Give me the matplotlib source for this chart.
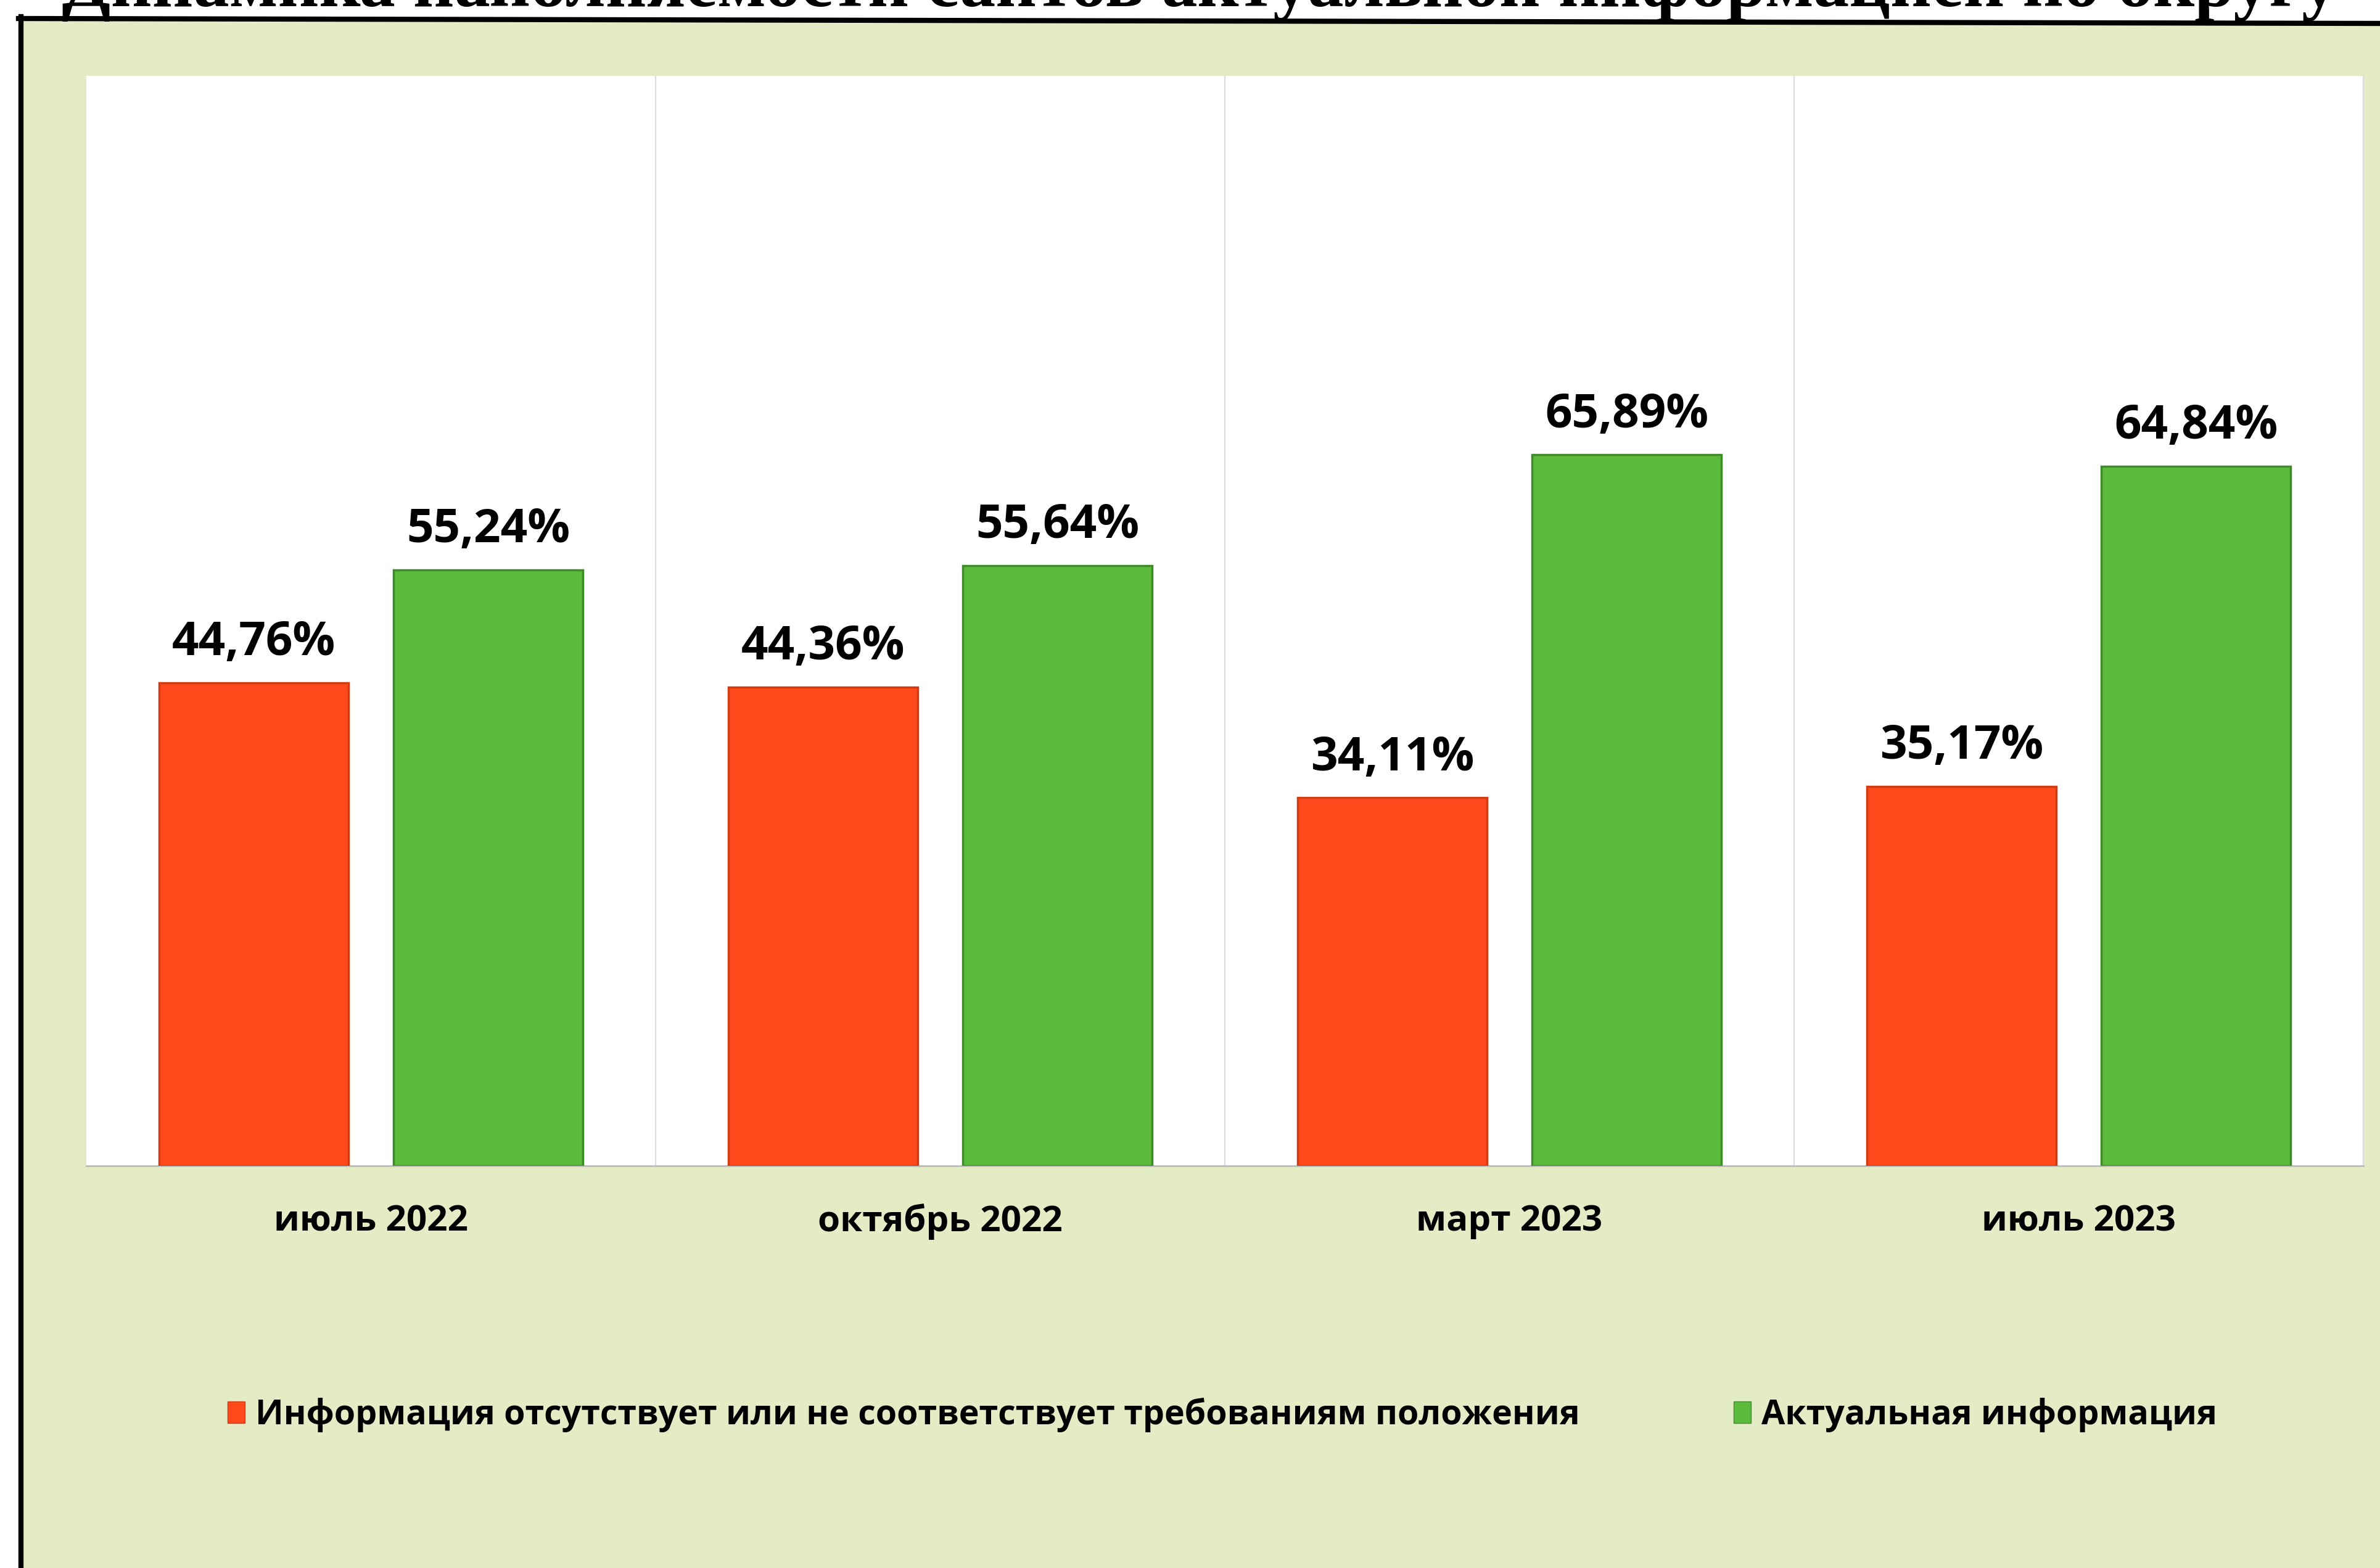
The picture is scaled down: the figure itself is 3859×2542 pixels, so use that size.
import matplotlib
matplotlib.use('Agg')
import matplotlib.pyplot as plt
from matplotlib.patches import Polygon, Patch
from matplotlib.lines import Line2D
import numpy as np

plt.rcParams['font.family'] = ['Open Sans', 'DejaVu Sans']

title = "Динамика наполняемости сайтов актуальной информацией по округу"
categories = ["июль 2022", "октябрь 2022", "март 2023", "июль 2023"]
series_names = ["Информация отсутствует или не соответствует требованиям положения",
                "Актуальная информация"]
missing = [44.76, 44.36, 34.11, 35.17]
actual = [55.24, 55.64, 65.89, 64.84]

RED = '#ff4a1c'
RED_EDGE = '#d23a12'
GREEN = '#5cbb3d'
GREEN_EDGE = '#3d8c28'
BG = '#e4ecc5'

W, H = 3859, 2542
DPI = 100
fig = plt.figure(figsize=(W / DPI, H / DPI), dpi=DPI, facecolor='white')


def fx(px):
    return px / W


def fy(py):
    return 1 - py / H


# green page background inside the frame
fig.patches.append(Polygon([(fx(34), fy(30)), (1, fy(38)), (1, 0), (fx(34), 0)],
                           closed=True, transform=fig.transFigure,
                           facecolor=BG, edgecolor='none', zorder=-2))
# black frame lines (top and left)
fig.lines.append(Line2D([fx(30), 1], [fy(30), fy(38)], transform=fig.transFigure,
                        color='black', lw=6, zorder=-1))
fig.lines.append(Line2D([fx(34), fx(34)], [fy(27), 0], transform=fig.transFigure,
                        color='black', lw=6, zorder=-1))

# clipped title at the top (cut off in the reference as well)
t = fig.text(fx(100), fy(10), title, family=['Liberation Serif', 'DejaVu Serif'],
             fontweight='bold', fontsize=80, ha='left', va='baseline', zorder=2)
fig.canvas.draw()
bb = t.get_window_extent()
t.set_fontsize(80 * 3690 / bb.width)

# plot area
ax = fig.add_axes([fx(140), fy(1890), fx(3832) - fx(140), (1890 - 123) / H])
ax.set_facecolor('white')
ax.set_zorder(1)

x = np.arange(len(categories))
w = 0.332
off = 0.206
ax.bar(x - off, missing, w, color=RED, edgecolor=RED_EDGE, linewidth=2.5, zorder=3,
       label=series_names[0])
ax.bar(x + off, actual, w, color=GREEN, edgecolor=GREEN_EDGE, linewidth=2.5, zorder=3,
       label=series_names[1])

ax.set_xlim(-0.5, len(categories) - 0.5)
ax.set_ylim(0, 101)
ax.vlines([0.5, 1.5, 2.5], 0, 101, color='#dcdcdc', lw=1.5, zorder=1)

for xs, vals in ((x - off, missing), (x + off, actual)):
    for xi, v in zip(xs, vals):
        ax.annotate(f"{v:.2f}".replace('.', ',') + '%', (xi, v), xytext=(0, 32),
                    textcoords='offset points', ha='center', va='baseline',
                    fontsize=55, fontweight='bold', color='black', zorder=4)

ax.set_xticks(x)
ax.set_xticklabels(categories, fontsize=42, fontweight='bold')
ax.tick_params(axis='x', length=0, pad=44)
ax.set_yticks([])
for s in ('top', 'left'):
    ax.spines[s].set_visible(False)
ax.spines['bottom'].set_color('#bcbcbc')
ax.spines['bottom'].set_linewidth(2)
ax.spines['right'].set_color('#dcdcdc')
ax.spines['right'].set_linewidth(1.5)

handles = [Patch(facecolor=RED, edgecolor=RED_EDGE), Patch(facecolor=GREEN, edgecolor=GREEN_EDGE)]
fig.legend(handles, series_names, loc='center', bbox_to_anchor=(0.5136, 0.0976), ncol=2,
           frameon=False, prop=dict(weight='bold', size=40), handlelength=0.5,
           handleheight=0.6, handletextpad=0.3, columnspacing=4.5)

fig.savefig('out.png', dpi=DPI, facecolor='white')
